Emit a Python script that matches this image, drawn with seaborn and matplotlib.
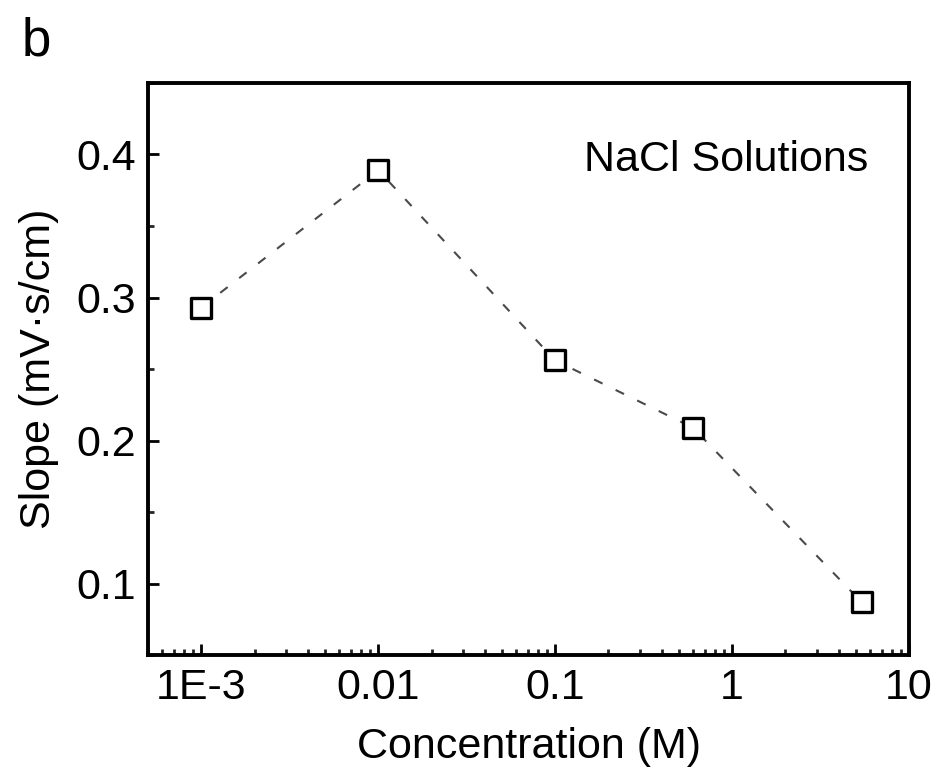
import matplotlib
matplotlib.use("Agg")
import matplotlib.pyplot as plt
import matplotlib.ticker as mticker
import numpy as np
import pandas as pd
import seaborn as sns

# NaCl concentration (M) and measured slope (mV·s/cm)
concentration = [0.001, 0.01, 0.1, 0.6, 5.4]
slope = [0.293, 0.389, 0.256, 0.209, 0.087]
x_ticks = [0.001, 0.01, 0.1, 1, 10]
x_tick_labels = ["1E-3", "0.01", "0.1", "1", "10"]
y_ticks = [0.1, 0.2, 0.3, 0.4]

df = pd.DataFrame({"conc": concentration, "slope": slope})

sns.set_theme(style="white")
plt.rcParams["font.family"] = ["Liberation Sans", "DejaVu Sans"]

fig = plt.figure(figsize=(9.43, 7.68), dpi=100)
ax = fig.add_axes([0.157, 0.147, 0.807, 0.745])

sns.lineplot(data=df, x="conc", y="slope", ax=ax, color="#4a4a4a",
             linewidth=1.5, dashes=False, zorder=2)
ax.lines[0].set_dashes((4.5, 7))
sns.scatterplot(data=df, x="conc", y="slope", ax=ax, marker="s", s=215,
                facecolor="white", edgecolor="black", linewidth=2.4, zorder=3)

ax.set_xscale("log")
ax.set_xlim(5e-4, 10)
ax.set_ylim(0.05, 0.45)
ax.set_xticks(x_ticks)
ax.set_xticklabels(x_tick_labels)
ax.xaxis.set_minor_locator(mticker.LogLocator(base=10, subs=np.arange(2, 10)))
ax.xaxis.set_minor_formatter(mticker.NullFormatter())
ax.set_yticks(y_ticks)
ax.set_yticklabels([f"{v:.1f}" for v in y_ticks])
ax.yaxis.set_minor_locator(mticker.MultipleLocator(0.05))

ax.tick_params(which="major", direction="in", length=8, width=2, labelsize=31,
               pad=9, bottom=True, left=True, top=False, right=False,
               colors="black")
ax.tick_params(which="minor", direction="in", length=4, width=2,
               bottom=True, left=True, top=False, right=False)

for sp in ax.spines.values():
    sp.set_visible(True)
    sp.set_color("black")
    sp.set_linewidth(2.8)

ax.set_xlabel("Concentration (M)", fontsize=31, labelpad=14, color="black")
ax.set_ylabel("Slope (mV·s/cm)", fontsize=31, labelpad=12, color="black")

ax.text(0.946, 0.846, "NaCl Solutions", transform=ax.transAxes,
        ha="right", va="baseline", fontsize=31, color="black")
fig.text(0.023, 0.928, "b", ha="left", va="baseline", fontsize=38,
         color="black")

fig.savefig("out.png", dpi=100)
